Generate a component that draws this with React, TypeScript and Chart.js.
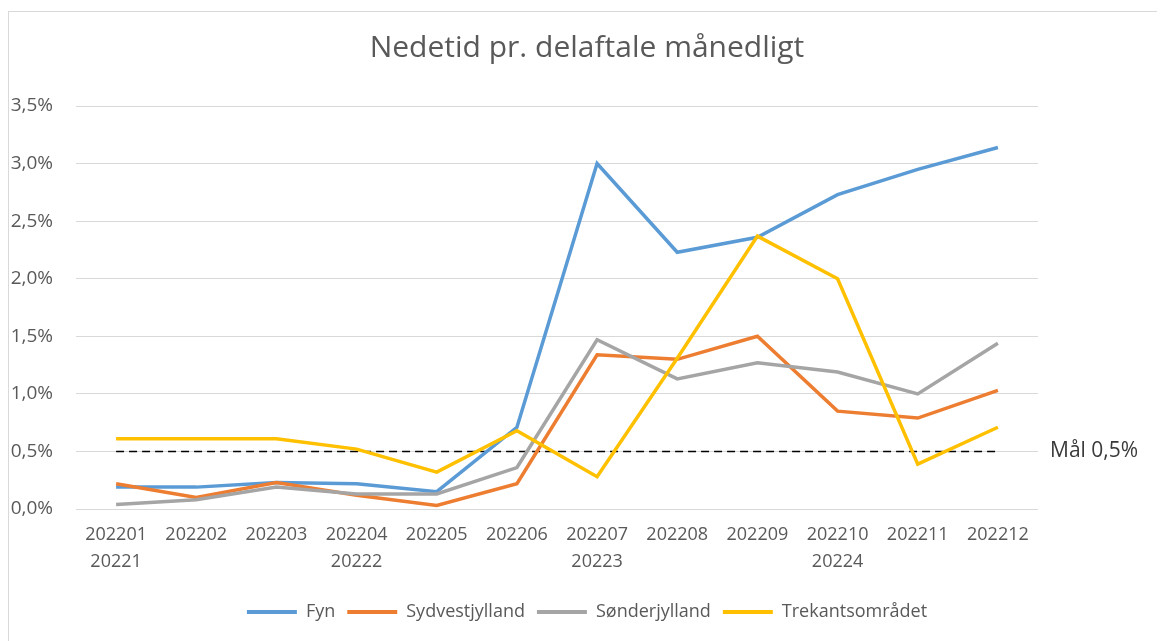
import React, { useEffect, useRef } from "react";
import { Chart, registerables } from "chart.js";

Chart.register(...registerables);

const TITLE = "Nedetid pr. delaftale månedligt";
const months = ["202201", "202202", "202203", "202204", "202205", "202206", "202207", "202208", "202209", "202210", "202211", "202212"];
const quarters = ["20221", "", "", "20222", "", "", "20223", "", "", "20224", "", ""];
const fyn = [0.19, 0.19, 0.23, 0.22, 0.15, 0.71, 3.0, 2.23, 2.36, 2.73, 2.95, 3.14];
const sydvestjylland = [0.22, 0.10, 0.23, 0.12, 0.03, 0.22, 1.34, 1.30, 1.50, 0.85, 0.79, 1.03];
const soenderjylland = [0.04, 0.08, 0.19, 0.13, 0.13, 0.36, 1.47, 1.13, 1.27, 1.19, 1.00, 1.44];
const trekantsomraadet = [0.61, 0.61, 0.61, 0.52, 0.32, 0.68, 0.28, 1.31, 2.37, 2.00, 0.39, 0.71];
const maal = [0.5, 0.5, 0.5, 0.5, 0.5, 0.5, 0.5, 0.5, 0.5, 0.5, 0.5, 0.5];
const seriesNames = ["Fyn", "Sydvestjylland", "Sønderjylland", "Trekantsområdet"];
const seriesColors = ["#5B9BD5", "#ED7D31", "#A5A5A5", "#FFC000"];
const targetValue = 0.5;
const targetLabel = "Mål 0,5%";
const yMin = 0;
const yMax = 3.5;
const yStep = 0.5;

const FONT = "'Open Sans', 'Noto Sans', sans-serif";

export default function App() {
  const ref = useRef<HTMLCanvasElement | null>(null);

  useEffect(() => {
    document.documentElement.style.overflow = "hidden";
    const canvas = ref.current;
    if (!canvas) return;
    const values = [fyn, sydvestjylland, soenderjylland, trekantsomraadet];
    const datasets: any[] = values.map((d, i) => ({
      label: seriesNames[i],
      data: d,
      borderColor: seriesColors[i],
      backgroundColor: seriesColors[i],
      borderWidth: 3.5,
      pointRadius: 0,
      tension: 0,
      order: 4 - i,
      yAxisID: "y",
    }));
    datasets.push({
      label: targetLabel,
      data: maal,
      borderColor: "#000000",
      backgroundColor: "#000000",
      borderWidth: 1.5,
      borderDash: [8, 5],
      pointRadius: 0,
      tension: 0,
      order: 10,
      yAxisID: "y",
    });

    const chart = new Chart(canvas, {
      type: "line",
      data: {
        labels: months.map((m, i) => [m, quarters[i]]),
        datasets,
      },
      options: {
        animation: false,
        responsive: false,
        maintainAspectRatio: false,
        layout: { padding: { left: 0, right: 0, top: 0, bottom: 10 } },
        plugins: {
          title: {
            display: true,
            text: TITLE,
            color: "#595959",
            font: { family: FONT, size: 30, weight: "normal", lineHeight: 1.2 },
            padding: { top: 18, bottom: 40 },
          },
          legend: {
            position: "bottom",
            labels: {
              color: "#595959",
              font: { family: FONT, size: 18 },
              boxWidth: 50,
              boxHeight: 4,
              padding: 12,
              generateLabels: (c: any) =>
                c.data.datasets
                  .map((ds: any, i: number) => ({
                    text: ds.label,
                    fillStyle: ds.borderColor,
                    strokeStyle: ds.borderColor,
                    lineWidth: 0,
                    hidden: false,
                    datasetIndex: i,
                    fontColor: "#595959",
                  }))
                  .filter((l: any) => l.text !== targetLabel),
            },
          },
          tooltip: { enabled: false },
        },
        scales: {
          x: {
            offset: true,
            grid: { display: false, drawTicks: false, offset: true },
            border: { display: false },
            ticks: {
              color: "#595959",
              font: { family: FONT, size: 18, lineHeight: 1.5 },
              padding: 12,
              maxRotation: 0,
              minRotation: 0,
              autoSkip: false,
            },
            afterFit: (s: any) => {
              s.height = 82;
            },
          },
          y: {
            position: "left",
            min: yMin,
            max: yMax,
            grid: { color: "#D9D9D9", lineWidth: 1, drawTicks: false },
            border: { display: false },
            ticks: {
              stepSize: yStep,
              color: "#595959",
              font: { family: FONT, size: 19 },
              padding: 23,
              callback: (v: any) => Number(v).toFixed(1).replace(".", ",") + "%",
            },
            afterFit: (s: any) => {
              s.width = 67;
            },
          },
          y2: {
            position: "right",
            display: true,
            min: yMin,
            max: yMax,
            grid: { display: false, drawTicks: false },
            border: { display: false },
            afterBuildTicks: (s: any) => {
              s.ticks = [{ value: targetValue }];
            },
            ticks: {
              color: "#3A3A3A",
              font: { family: FONT, size: 21 },
              padding: 12,
              callback: () => targetLabel,
            },
            afterFit: (s: any) => {
              s.width = 127;
            },
          },
        },
      },
    });
    return () => chart.destroy();
  }, []);

  return (
    <div
      style={{
        marginTop: 3,
        width: 1157,
        height: 630,
        borderTop: "1px solid #D9D9D9",
        borderLeft: "1px solid #D9D9D9",
        boxSizing: "border-box",
        background: "#ffffff",
      }}
    >
      <canvas ref={ref} width={1156} height={629} style={{ display: "block" }} />
    </div>
  );
}
